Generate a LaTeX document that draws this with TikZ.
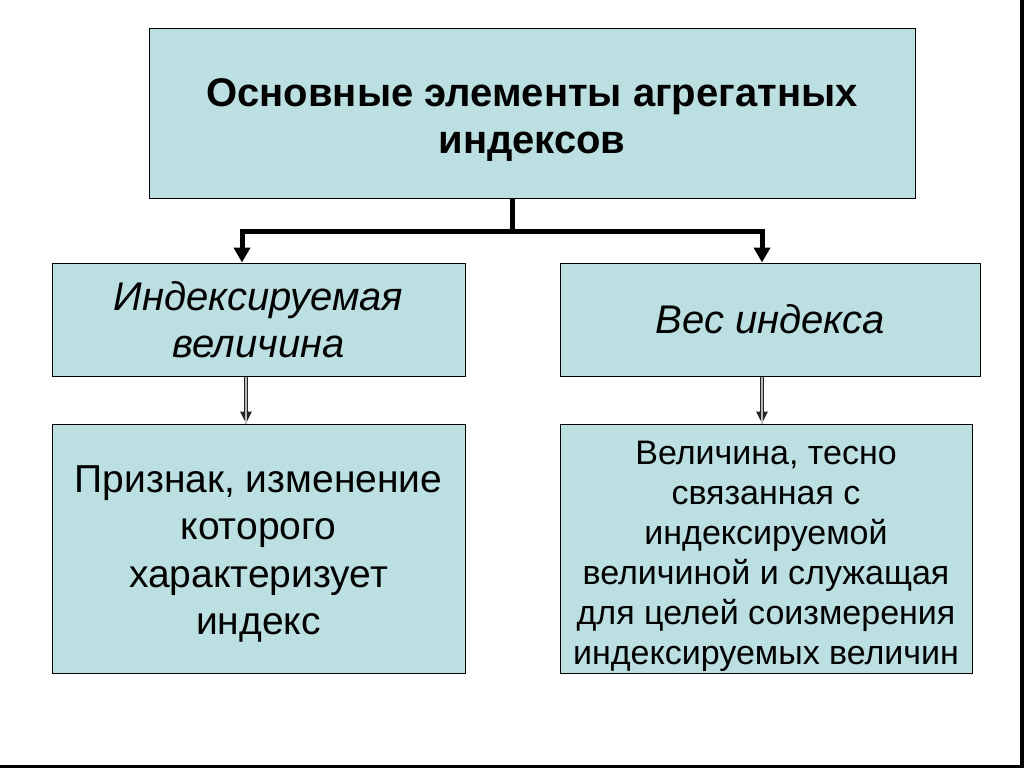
\documentclass[tikz,border=0pt]{standalone}
\usepackage{fontspec}
\setmainfont{Liberation Sans}
\usetikzlibrary{arrows.meta}
\usetikzlibrary{positioning}
\definecolor{boxfill}{RGB}{188,224,226}
\newcommand{\lift}[1]{\rule{0pt}{#1}}
\pgfdeclarelayer{nodelayer}
\pgfdeclarelayer{edgelayer}
\pgfsetlayers{main,edgelayer,nodelayer}
\tikzset{box/.style={draw=black, fill=boxfill, line width=1pt, rectangle, inner sep=0pt, align=center, anchor=center}}
\tikzset{head/.style={box, font=\fontsize{40}{47}\selectfont\bfseries}}
\tikzset{kind/.style={box, font=\fontsize{40}{47}\selectfont\itshape}}
\tikzset{note/.style={box, font=\fontsize{39}{47.5}\selectfont}}
\tikzset{small/.style={box, font=\fontsize{34}{40}\selectfont}}
\tikzset{trunk/.style={line width=5pt}}
\tikzset{bigarrow/.style={trunk, -{Triangle[width=16pt,length=15pt]}}}
\tikzset{thinarrow/.style={line width=4.4pt, black!85, -{Triangle[width=11pt,length=12pt]}}}
\tikzset{thincore/.style={line width=2.2pt, gray!55}}

\begin{document}
\begin{tikzpicture}[x=1pt, y=-1pt]
	\useasboundingbox (0,0) rectangle (1024,768);
	\fill [white] (0,0) rectangle (1024,768);
	\fill [black] (1020,0) rectangle (1024,768);
	\fill [black] (0,765) rectangle (1024,768);
	\begin{pgfonlayer}{nodelayer}
		\node [style=head, minimum width=766pt, minimum height=169pt] (0) at (532, 113.5) {\lift{40pt}Основные элементы агрегатных\\индексов};
		\node [style=kind, minimum width=413pt, minimum height=113pt] (1) at (258.5, 319.5) {Индексируемая\\величина};
		\node [style=kind, minimum width=420pt, minimum height=113pt] (2) at (770, 319.5) {Вес индекса};
		\node [style=note, minimum width=413pt, minimum height=249pt] (3) at (258.5, 548.5) {\lift{38pt}Признак, изменение\\которого\\характеризует\\индекс};
		\node [style=small, minimum width=412pt, minimum height=249pt] (4) at (766, 548.5) {\lift{40pt}Величина, тесно\\связанная с\\индексируемой\\величиной и служащая\\для целей соизмерения\\индексируемых величин};
		\coordinate (5) at (512, 231);
		\coordinate (6) at (242, 231);
		\coordinate (7) at (762, 231);
		\coordinate (8) at (246, 0);
		\coordinate (9) at (762, 0);
	\end{pgfonlayer}
	\begin{pgfonlayer}{edgelayer}
		\draw [style=trunk] (0.south -| 5) to (5);
		\draw [style=trunk, line cap=rect] (6) to (7);
		\draw [style=bigarrow] (6) to (6 |- 1.north);
		\draw [style=bigarrow] (7) to (7 |- 2.north);
		\draw [style=thinarrow] (8 |- 1.south) to (8 |- 3.north);
		\draw [style=thincore] (8 |- 1.south) to ([yshift=-14pt]8 |- 3.north);
		\draw [style=thinarrow] (9 |- 2.south) to (9 |- 4.north);
		\draw [style=thincore] (9 |- 2.south) to ([yshift=-14pt]9 |- 4.north);
	\end{pgfonlayer}
\end{tikzpicture}
\end{document}
